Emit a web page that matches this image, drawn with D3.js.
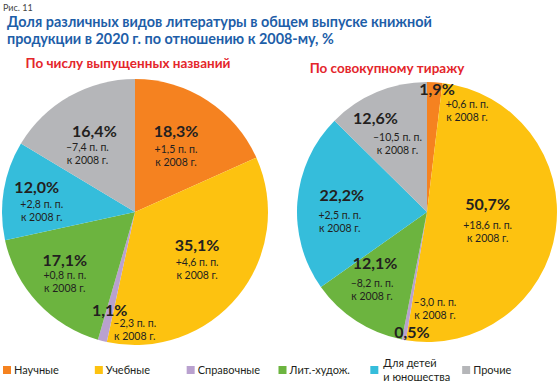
<!DOCTYPE html>
<html>
<head>
<meta charset="utf-8">
<script src="https://cdn.jsdelivr.net/npm/d3@7"></script>
<style>
  body { margin: 0; background: #fff; }
  text { font-family: Lato, "Open Sans", sans-serif; }
</style>
</head>
<body>
<svg id="chart" width="560" height="383"></svg>
<script>
// Categories and legend texts
const categories = ['Научные', 'Учебные', 'Справочные', 'Лит.-худож.', 'Для детей и юношества', 'Прочие'];
const legendLabels = [['Научные'], ['Учебные'], ['Справочные'], ['Лит.-худож.'], ['Для детей', 'и юношества'], ['Прочие']];

// Share in 2020, % and change vs 2008, p.p.
const titlesShare = [18.3, 35.1, 1.1, 17.1, 12.0, 16.4];
const titlesChange = [1.5, 4.6, -2.3, 0.8, 2.8, -7.4];
const printShare = [1.9, 50.7, 0.5, 12.1, 22.2, 12.6];
const printChange = [0.6, 18.6, -3.0, -8.2, 2.5, -10.5];

const colors = ['#f58220', '#fdc210', '#b9a1cf', '#6cb43f', '#35bddb', '#b5b6b9'];

const svg = d3.select('#chart');
const dark = '#231f20';

// Header
svg.append('text')
  .attr('x', 3).attr('y', 11)
  .attr('font-size', 9).attr('fill', '#444')
  .text('Рис. 11');

const titleLines = ['Доля различных видов литературы в общем выпуске книжной',
  'продукции в 2020 г. по отношению к 2008-му, %'];
svg.selectAll('.title')
  .data(titleLines)
  .enter().append('text')
    .attr('class', 'title')
    .attr('x', 7)
    .attr('y', (d, i) => 27 + i * 17)
    .attr('font-size', 14.4)
    .attr('font-weight', 'bold')
    .attr('fill', '#1d5ea8')
    .text(d => d);

const fmtPct = v => v.toFixed(1).replace('.', ',') + '%';
const fmtChange = v => (v < 0 ? '–' : '+') + Math.abs(v).toFixed(1).replace('.', ',') + ' п. п.';

// Layout of the two pies; label nudges are tuned to the original figure
const charts = [
  {
    title: 'По числу выпущенных названий', titleX: 128, titleY: 68,
    share: titlesShare, change: titlesChange,
    cx: 135, cy: 212, r: 133,
    nudge: [[-6, -8], [-5, -21], [-4, 15], [-7, -11], [-13, -11], [2, -5]],
    sub: [[0, 18], [0, 17], [25, 13], [0, 15], [5, 17], [-7, 16]]
  },
  {
    title: 'По совокупному тиражу', titleX: 387, titleY: 73,
    share: printShare, change: printChange,
    cx: 427, cy: 212, r: 130,
    nudge: [[5, -38], [-23, -20], [0, 37], [-6, -20], [-1, -10], [-19, -16]],
    sub: [[30, 15], [0, 21], [23, -30], [-3, 20], [-2, 20], [22, 19]]
  }
];

const pie = d3.pie().sort(null).value(d => d);

charts.forEach((c) => {
  svg.append('text')
    .attr('x', c.titleX).attr('y', c.titleY)
    .attr('text-anchor', 'middle')
    .attr('font-size', 13.5)
    .attr('font-weight', 'bold')
    .attr('fill', '#e4262b')
    .text(c.title);

  const g = svg.append('g').attr('transform', `translate(${c.cx},${c.cy})`);
  const arc = d3.arc().innerRadius(0).outerRadius(c.r);
  const labelArc = d3.arc().innerRadius(c.r * 0.65).outerRadius(c.r * 0.65);
  const arcs = pie(c.share);

  g.selectAll('path')
    .data(arcs)
    .enter().append('path')
      .attr('d', arc)
      .attr('fill', (d, i) => colors[i]);

  const labels = g.selectAll('.lbl')
    .data(arcs)
    .enter().append('g')
      .attr('class', 'lbl')
      .attr('transform', (d, i) => {
        const [x, y] = labelArc.centroid(d);
        return `translate(${x + c.nudge[i][0]},${y + c.nudge[i][1]})`;
      });

  labels.append('text')
    .attr('text-anchor', 'middle')
    .attr('dy', '0.35em')
    .attr('font-size', 16)
    .attr('font-weight', 'bold')
    .attr('fill', dark)
    .text(d => fmtPct(d.data));

  labels.append('text')
    .attr('text-anchor', 'middle')
    .attr('x', (d, i) => c.sub[i][0])
    .attr('y', (d, i) => c.sub[i][1])
    .attr('dy', '0.35em')
    .attr('font-size', 10.5)
    .attr('fill', dark)
    .text((d, i) => fmtChange(c.change[i]));

  labels.append('text')
    .attr('text-anchor', 'middle')
    .attr('x', (d, i) => c.sub[i][0])
    .attr('y', (d, i) => c.sub[i][1] + 13)
    .attr('dy', '0.35em')
    .attr('font-size', 10.5)
    .attr('fill', dark)
    .text('к 2008 г.');
});

// Legend
const lx = d3.scaleBand().domain(categories).range([3, 554]);
const legend = svg.selectAll('.legend')
  .data(categories)
  .enter().append('g')
    .attr('class', 'legend')
    .attr('transform', d => `translate(${lx(d)},370)`);

legend.append('rect')
  .attr('x', 0).attr('y', -4)
  .attr('width', 8).attr('height', 8)
  .attr('fill', (d, i) => colors[i]);

legend.append('text')
  .attr('x', (d, i) => legendLabels[i].length > 1 ? 13 : 11)
  .attr('font-size', 11)
  .attr('fill', dark)
  .selectAll('tspan')
  .data((d, i) => legendLabels[i].map((t, j, a) => ({ t, dy: (j - (a.length - 1) / 2) * 14 })))
  .enter().append('tspan')
    .attr('x', function () { return this.parentNode.getAttribute('x'); })
    .attr('y', d => d.dy)
    .attr('dy', '0.35em')
    .text(d => d.t);
</script>
</body>
</html>
